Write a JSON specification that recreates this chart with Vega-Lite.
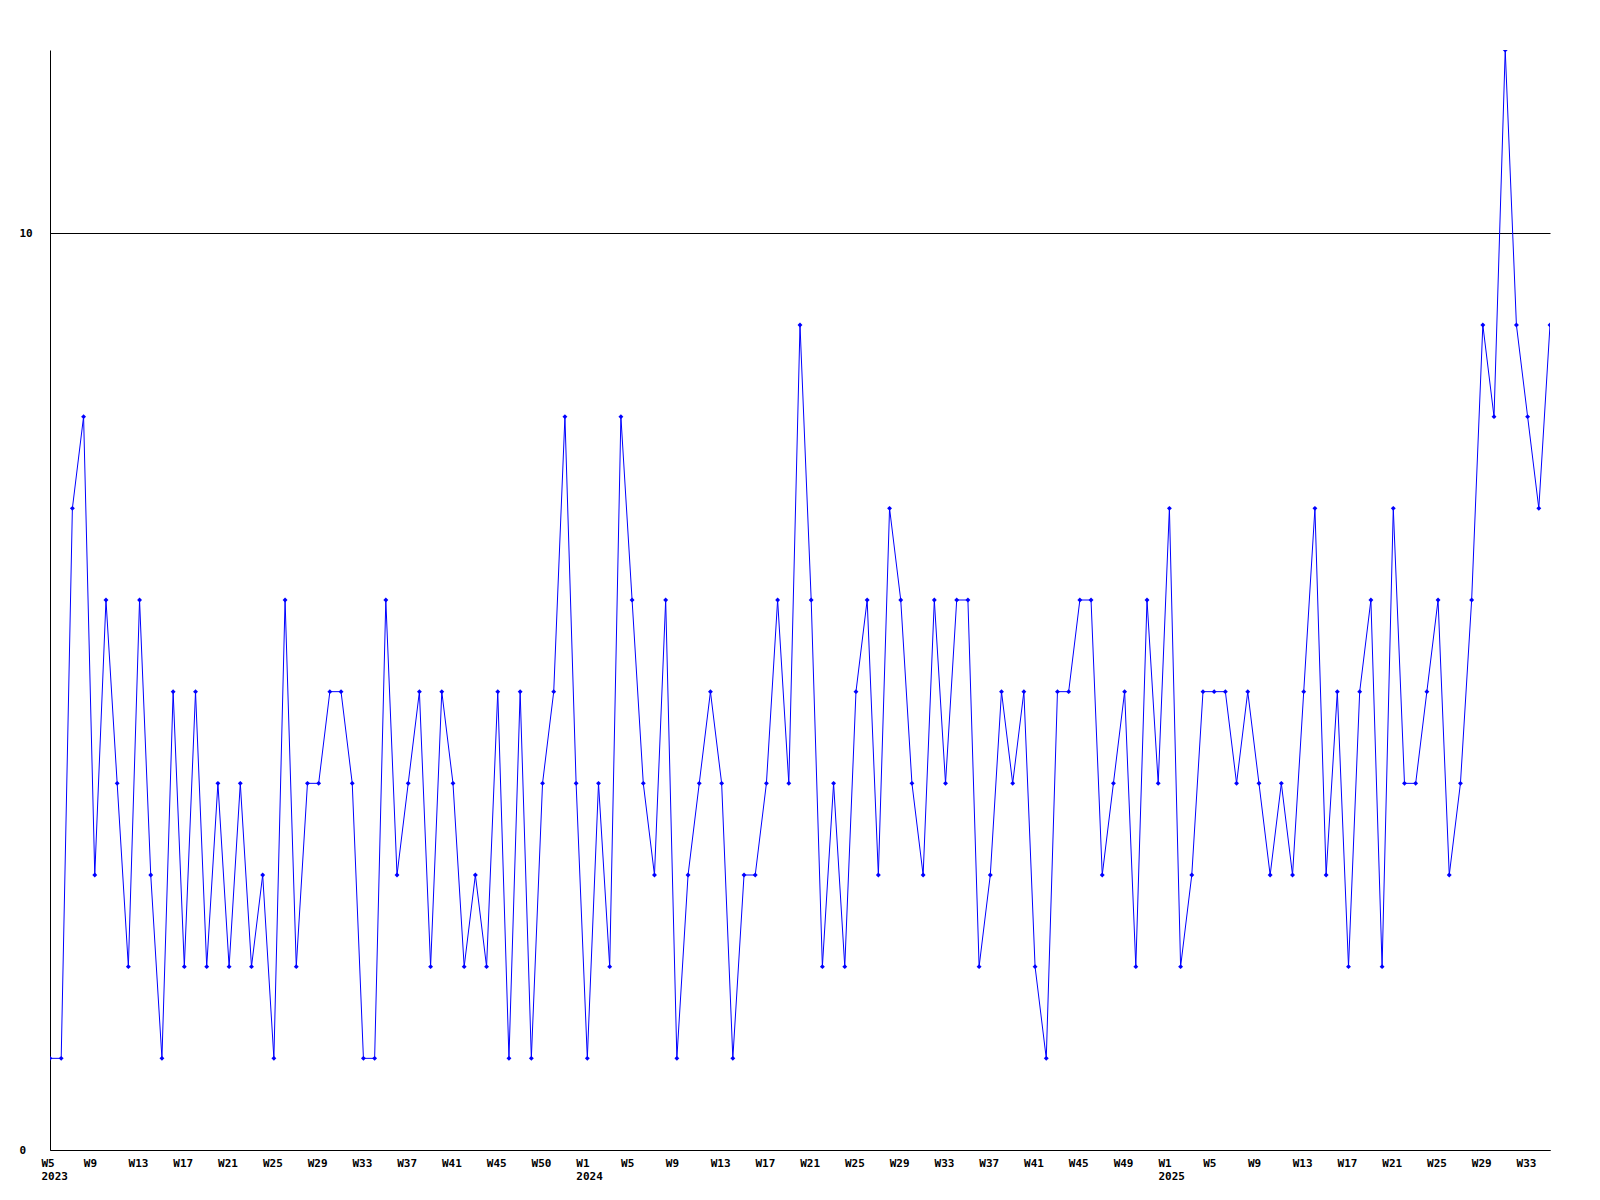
{
  "$schema": "https://vega.github.io/schema/vega-lite/v6.json",
  "autosize": {"type": "none"},
  "width": 1500,
  "height": 1100,
  "padding": {"left": 50, "top": 50, "right": 50, "bottom": 50},
  "background": "white",
  "config": {"view": {"stroke": null}},
  "data": {"values": [
    {"week": "2023-W05", "n": 1}, {"week": "2023-W06", "n": 1}, {"week": "2023-W07", "n": 7}, {"week": "2023-W08", "n": 8},
    {"week": "2023-W09", "n": 3}, {"week": "2023-W10", "n": 6}, {"week": "2023-W11", "n": 4}, {"week": "2023-W12", "n": 2},
    {"week": "2023-W13", "n": 6}, {"week": "2023-W14", "n": 3}, {"week": "2023-W15", "n": 1}, {"week": "2023-W16", "n": 5},
    {"week": "2023-W17", "n": 2}, {"week": "2023-W18", "n": 5}, {"week": "2023-W19", "n": 2}, {"week": "2023-W20", "n": 4},
    {"week": "2023-W21", "n": 2}, {"week": "2023-W22", "n": 4}, {"week": "2023-W23", "n": 2}, {"week": "2023-W24", "n": 3},
    {"week": "2023-W25", "n": 1}, {"week": "2023-W26", "n": 6}, {"week": "2023-W27", "n": 2}, {"week": "2023-W28", "n": 4},
    {"week": "2023-W29", "n": 4}, {"week": "2023-W30", "n": 5}, {"week": "2023-W31", "n": 5}, {"week": "2023-W32", "n": 4},
    {"week": "2023-W33", "n": 1}, {"week": "2023-W34", "n": 1}, {"week": "2023-W35", "n": 6}, {"week": "2023-W36", "n": 3},
    {"week": "2023-W37", "n": 4}, {"week": "2023-W38", "n": 5}, {"week": "2023-W39", "n": 2}, {"week": "2023-W40", "n": 5},
    {"week": "2023-W41", "n": 4}, {"week": "2023-W42", "n": 2}, {"week": "2023-W43", "n": 3}, {"week": "2023-W44", "n": 2},
    {"week": "2023-W45", "n": 5}, {"week": "2023-W46", "n": 1}, {"week": "2023-W47", "n": 5}, {"week": "2023-W48", "n": 1},
    {"week": "2023-W49", "n": 4}, {"week": "2023-W50", "n": 5}, {"week": "2023-W51", "n": 8}, {"week": "2023-W52", "n": 4},
    {"week": "2024-W01", "n": 1}, {"week": "2024-W02", "n": 4}, {"week": "2024-W03", "n": 2}, {"week": "2024-W04", "n": 8},
    {"week": "2024-W05", "n": 6}, {"week": "2024-W06", "n": 4}, {"week": "2024-W07", "n": 3}, {"week": "2024-W08", "n": 6},
    {"week": "2024-W09", "n": 1}, {"week": "2024-W10", "n": 3}, {"week": "2024-W11", "n": 4}, {"week": "2024-W12", "n": 5},
    {"week": "2024-W13", "n": 4}, {"week": "2024-W14", "n": 1}, {"week": "2024-W15", "n": 3}, {"week": "2024-W16", "n": 3},
    {"week": "2024-W17", "n": 4}, {"week": "2024-W18", "n": 6}, {"week": "2024-W19", "n": 4}, {"week": "2024-W20", "n": 9},
    {"week": "2024-W21", "n": 6}, {"week": "2024-W22", "n": 2}, {"week": "2024-W23", "n": 4}, {"week": "2024-W24", "n": 2},
    {"week": "2024-W25", "n": 5}, {"week": "2024-W26", "n": 6}, {"week": "2024-W27", "n": 3}, {"week": "2024-W28", "n": 7},
    {"week": "2024-W29", "n": 6}, {"week": "2024-W30", "n": 4}, {"week": "2024-W31", "n": 3}, {"week": "2024-W32", "n": 6},
    {"week": "2024-W33", "n": 4}, {"week": "2024-W34", "n": 6}, {"week": "2024-W35", "n": 6}, {"week": "2024-W36", "n": 2},
    {"week": "2024-W37", "n": 3}, {"week": "2024-W38", "n": 5}, {"week": "2024-W39", "n": 4}, {"week": "2024-W40", "n": 5},
    {"week": "2024-W41", "n": 2}, {"week": "2024-W42", "n": 1}, {"week": "2024-W43", "n": 5}, {"week": "2024-W44", "n": 5},
    {"week": "2024-W45", "n": 6}, {"week": "2024-W46", "n": 6}, {"week": "2024-W47", "n": 3}, {"week": "2024-W48", "n": 4},
    {"week": "2024-W49", "n": 5}, {"week": "2024-W50", "n": 2}, {"week": "2024-W51", "n": 6}, {"week": "2024-W52", "n": 4},
    {"week": "2025-W01", "n": 7}, {"week": "2025-W02", "n": 2}, {"week": "2025-W03", "n": 3}, {"week": "2025-W04", "n": 5},
    {"week": "2025-W05", "n": 5}, {"week": "2025-W06", "n": 5}, {"week": "2025-W07", "n": 4}, {"week": "2025-W08", "n": 5},
    {"week": "2025-W09", "n": 4}, {"week": "2025-W10", "n": 3}, {"week": "2025-W11", "n": 4}, {"week": "2025-W12", "n": 3},
    {"week": "2025-W13", "n": 5}, {"week": "2025-W14", "n": 7}, {"week": "2025-W15", "n": 3}, {"week": "2025-W16", "n": 5},
    {"week": "2025-W17", "n": 2}, {"week": "2025-W18", "n": 5}, {"week": "2025-W19", "n": 6}, {"week": "2025-W20", "n": 2},
    {"week": "2025-W21", "n": 7}, {"week": "2025-W22", "n": 4}, {"week": "2025-W23", "n": 4}, {"week": "2025-W24", "n": 5},
    {"week": "2025-W25", "n": 6}, {"week": "2025-W26", "n": 3}, {"week": "2025-W27", "n": 4}, {"week": "2025-W28", "n": 6},
    {"week": "2025-W29", "n": 9}, {"week": "2025-W30", "n": 8}, {"week": "2025-W31", "n": 12}, {"week": "2025-W32", "n": 9},
    {"week": "2025-W33", "n": 8}, {"week": "2025-W34", "n": 7}, {"week": "2025-W35", "n": 9}
  ]},
  "encoding": {
    "x": {
      "field": "week", "type": "ordinal", "sort": null,
      "scale": {"type": "point", "padding": 0},
      "axis": {
        "title": null,
        "values": ["2023-W05","2023-W09","2023-W13","2023-W17","2023-W21","2023-W25","2023-W29","2023-W33","2023-W37","2023-W41","2023-W45","2023-W49",
                   "2024-W01","2024-W05","2024-W09","2024-W13","2024-W17","2024-W21","2024-W25","2024-W29","2024-W33","2024-W37","2024-W41","2024-W45","2024-W49",
                   "2025-W01","2025-W05","2025-W09","2025-W13","2025-W17","2025-W21","2025-W25","2025-W29","2025-W33"],
        "labelExpr": "datum.value == '2023-W05' ? ['W5','2023'] : datum.value == '2024-W01' ? ['W1','2024'] : datum.value == '2025-W01' ? ['W1','2025'] : datum.value == '2023-W49' ? 'W50' : 'W' + toNumber(slice(datum.value, 6))",
        "labelAngle": 0,
        "labelAlign": "left",
        "labelOffset": {"condition": {"test": "datum.value == '2023-W05'", "value": -9}, "value": -11.5},
        "labelBaseline": "top",
        "labelFont": "DejaVu Sans Mono",
        "labelFontWeight": "bold",
        "labelFontSize": 11,
        "labelColor": "black",
        "labelLineHeight": 13.5,
        "labelPadding": 7,
        "labelOverlap": false,
        "labelBound": false,
        "labelFlush": false,
        "ticks": false,
        "tickSize": 0,
        "domainColor": "black",
        "domainWidth": 1,
        "grid": false
      }
    },
    "y": {
      "field": "n", "type": "quantitative",
      "scale": {"domain": [0, 12], "nice": false, "zero": true},
      "axis": {
        "title": null,
        "values": [0, 10],
        "labelFont": "DejaVu Sans Mono",
        "labelFontWeight": "bold",
        "labelFontSize": 11,
        "labelColor": "black",
        "labelAlign": "left",
        "labelBaseline": "middle",
        "labelPadding": 31,
        "ticks": false,
        "tickSize": 0,
        "domainColor": "black",
        "domainWidth": 1,
        "grid": true,
        "gridColor": "black",
        "gridOpacity": 1,
        "gridWidth": 1
      }
    }
  },
  "layer": [
    {"mark": {"type": "line", "color": "#0000ff", "strokeWidth": 1, "clip": true}},
    {"mark": {"type": "point", "shape": "diamond", "filled": true, "color": "#0000ff", "size": 24, "opacity": 1, "clip": true}}
  ]
}
